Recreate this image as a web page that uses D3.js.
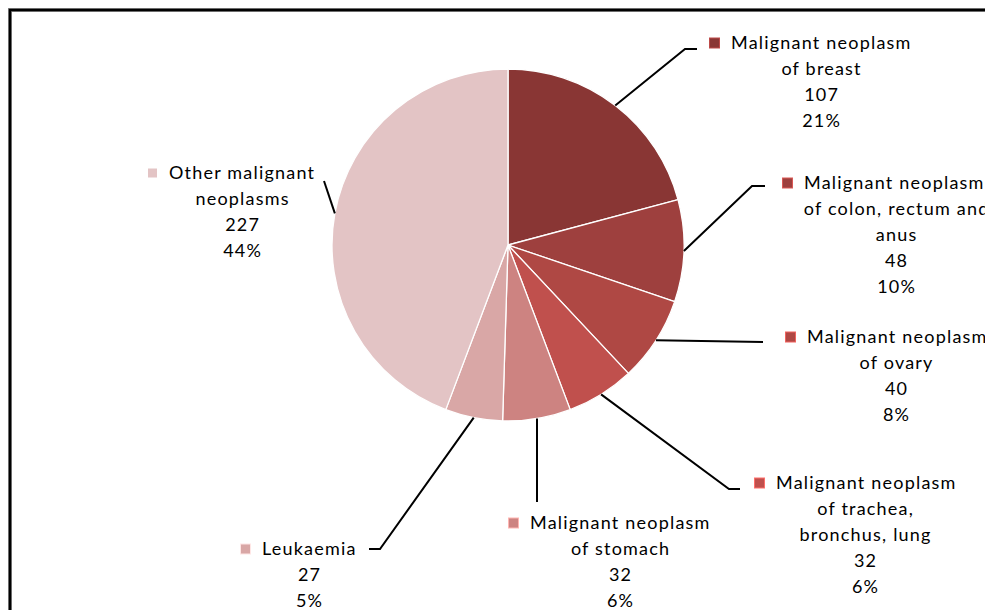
<!DOCTYPE html>
<html>
<head>
<meta charset="utf-8">
<script src="https://cdn.jsdelivr.net/npm/d3@7"></script>
<style>
  html, body { margin: 0; padding: 0; background: #fff; }
  svg { display: block; }
  text { font-family: Lato, "Open Sans", sans-serif; font-size: 18px; letter-spacing: 1.2px; fill: #000; }
</style>
</head>
<body>
<svg id="chart" width="985" height="610"></svg>
<script>
// slices, clockwise from 12 o'clock
var labels = [
  ['Malignant neoplasm', 'of breast'],
  ['Malignant neoplasm', 'of colon, rectum and', 'anus'],
  ['Malignant neoplasm', 'of ovary'],
  ['Malignant neoplasm', 'of trachea,', 'bronchus, lung'],
  ['Malignant neoplasm', 'of stomach'],
  ['Leukaemia'],
  ['Other malignant', 'neoplasms']
];
var values = [107, 48, 40, 32, 32, 27, 227];
var percents = [21, 10, 8, 6, 6, 5, 44];
var colors = ['#893634', '#9e403e', '#af4844', '#c0504d', '#cd8381', '#d9a7a6', '#e3c4c5'];

// label layout (elbow of leader, end of leader, key x, first line y, centre x of other lines)
var layout = [
  { elbow: [685, 49],  end: [697, 49],  keyX: 709, y: 43,  cx: 821 },
  { elbow: [752, 186], end: [765, 186], keyX: 782, y: 183, cx: 896 },
  { elbow: [763, 342], end: [763, 342], keyX: 785, y: 337, cx: 896 },
  { elbow: [729, 489], end: [740, 489], keyX: 754, y: 483, cx: 865 },
  { elbow: [537, 502], end: [537, 502], keyX: 508, y: 523, cx: 620 },
  { elbow: [380, 549], end: [369, 549], keyX: 240, y: 549, cx: 309 },
  { elbow: [324, 181], end: [324, 181], keyX: 147, y: 173, cx: 242 }
];

var width = 985, height = 610,
    cx = 508, cy = 245, radius = 176,
    lineH = 26;

var svg = d3.select('#chart');

// frame (runs off the right and bottom edge)
svg.append('rect')
  .attr('x', 10).attr('y', 10)
  .attr('width', 1200).attr('height', 1200)
  .attr('fill', 'none')
  .attr('stroke', '#888').attr('stroke-width', 4);
svg.append('rect')
  .attr('x', 10).attr('y', 10)
  .attr('width', 1200).attr('height', 1200)
  .attr('fill', 'none')
  .attr('stroke', '#000').attr('stroke-width', 2.4);

var data = values.map(function(v, i) {
      return { label: labels[i], value: v, pct: percents[i], color: colors[i], layout: layout[i] };
    });

var pie = d3.pie().sort(null).value(function(d) { return d.value; }),
    arcs = pie(data),
    arc = d3.arc().innerRadius(0).outerRadius(radius),
    edge = d3.arc().innerRadius(radius).outerRadius(radius);

var g = svg.append('g').attr('transform', 'translate(' + cx + ',' + cy + ')');

g.selectAll('path.slice')
  .data(arcs)
  .enter()
    .append('path')
    .attr('class', 'slice')
    .attr('d', arc)
    .attr('fill', function(d) { return d.data.color; })
    .attr('stroke', '#fff')
    .attr('stroke-width', 1.3)
    .attr('stroke-linejoin', 'round');

// leader lines from the middle of each slice's rim
var line = d3.line();
svg.selectAll('path.leader')
  .data(arcs)
  .enter()
    .append('path')
    .attr('class', 'leader')
    .attr('d', function(d) {
      var p = edge.centroid(d),
          l = d.data.layout;
      return line([[cx + p[0], cy + p[1]], l.elbow, l.end]);
    })
    .attr('fill', 'none')
    .attr('stroke', '#000')
    .attr('stroke-width', 2);

// labels: key square + lines of name, value, percent
var labelG = svg.selectAll('g.label')
  .data(arcs)
  .enter()
    .append('g')
    .attr('class', 'label');

labelG.append('rect')
  .attr('x', function(d) { return d.data.layout.keyX + 0.5; })
  .attr('y', function(d) { return d.data.layout.y - 5; })
  .attr('width', 10).attr('height', 10)
  .attr('fill', function(d) { return d.data.color; })
  .attr('stroke', function(d) { return d3.color(d.data.color).brighter(0.9); })
  .attr('stroke-width', 1);

labelG.append('text')
  .attr('x', function(d) { return d.data.layout.keyX + 22; })
  .attr('y', function(d) { return d.data.layout.y; })
  .attr('dy', '0.35em')
  .text(function(d) { return d.data.label[0]; });

labelG.each(function(d) {
  var l = d.data.layout,
      rest = d.data.label.slice(1).concat([String(d.data.value), d.data.pct + '%']);
  d3.select(this).selectAll('text.line')
    .data(rest)
    .enter()
      .append('text')
      .attr('class', 'line')
      .attr('x', l.cx + 0.6)
      .attr('y', function(t, i) { return l.y + (i + 1) * lineH; })
      .attr('dy', '0.35em')
      .attr('text-anchor', 'middle')
      .text(function(t) { return t; });
});
</script>
</body>
</html>
